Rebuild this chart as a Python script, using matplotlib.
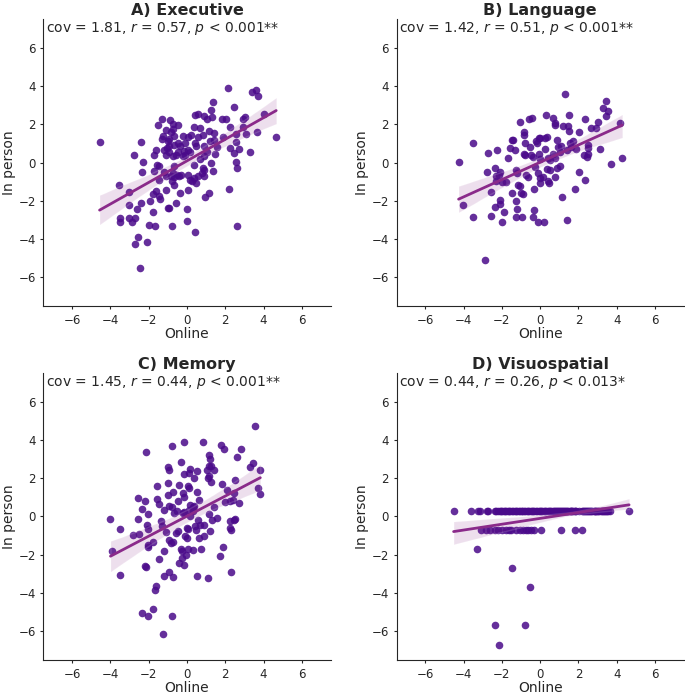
import numpy as np
import matplotlib
matplotlib.use('Agg')
import matplotlib.pyplot as plt
import seaborn as sns

# (online, in person) pairs
executive = [(-4.57, 1.06), (2.12, 3.91), (3.39, 3.70), (3.60, 3.79), (3.70, 3.46), (1.36, 3.18),
             (2.47, 2.90), (4.00, 2.54), (4.66, 1.32), (3.65, 1.60), (3.08, 1.51), (3.27, 0.56),
             (2.90, 2.30), (3.03, 2.37), (2.90, 1.86), (2.56, 1.50), (2.73, 0.70), (2.54, 1.06),
             (2.26, 0.77), (2.45, 0.52), (2.56, 0.05), (2.59, -0.31), (2.19, -1.36), (2.59, -3.32),
             (1.83, 2.30), (2.03, 2.28), (2.26, 1.88), (1.88, 1.36), (1.57, 0.82), (1.46, 0.43),
             (1.25, 0.00), (1.34, -0.42), (1.25, 2.73), (0.43, 2.49), (0.56, 2.54), (0.90, 2.45),
             (1.03, 2.28), (1.29, 2.38), (0.70, 1.81), (0.35, 1.86), (1.17, 1.65), (1.39, 1.55),
             (0.82, 1.43), (0.56, 1.34), (0.21, 1.43), (0.43, 1.03), (0.47, 0.85), (1.22, 1.11),
             (1.39, 1.20), (0.90, 0.85), (1.04, 0.54), (0.87, 0.33), (0.66, 0.19), (0.38, -0.14),
             (0.85, -0.28), (0.90, -0.37), (0.77, -0.54), (0.56, -0.68), (0.38, -0.80), (0.87, -0.71),
             (0.47, -1.06), (0.05, -0.66), (0.17, -0.89), (0.24, -0.97), (0.05, -1.46), (1.17, -1.58),
             (0.96, -1.81), (-0.02, -2.42), (-0.02, -3.06), (0.43, -3.63), (-0.23, 1.37), (-0.10, 1.03),
             (0.03, 1.34), (-0.35, 0.85), (-0.14, 0.59), (0.03, 0.68), (-0.45, 0.57), (-0.23, 0.33),
             (-0.09, 0.37), (0.16, 0.54), (-0.49, 1.03), (-0.66, 0.90), (-0.66, 1.37), (-0.45, 1.97),
             (-0.73, 2.03), (-0.87, 2.21), (-0.73, 1.76), (-0.83, 1.58), (-1.30, 2.30), (-1.53, 1.98),
             (-1.23, 1.41), (-1.32, 1.23), (-1.01, 1.11), (-1.06, 0.77), (-1.18, 0.64), (-0.96, 0.85),
             (-0.92, 0.54), (-1.10, 0.37), (-1.62, 0.68), (-1.70, 0.42), (-0.75, 0.33), (-0.57, 0.42),
             (-0.70, -0.16), (-0.75, -0.54), (-0.54, -0.63), (-0.43, -0.71), (-0.31, -0.66), (-0.70, -0.77),
             (-0.83, -0.71), (-0.78, -0.97), (-0.66, -1.15), (-0.37, -1.58), (-0.59, -2.14), (-1.01, -2.37),
             (-0.92, -2.37), (-1.08, -1.44), (-1.18, -0.50), (-1.10, -0.71), (-1.57, -0.12), (-1.44, -0.19),
             (-1.70, -0.45), (-1.44, -0.89), (-1.62, -1.50), (-1.44, -1.76), (-1.39, -1.90), (-1.77, -1.62),
             (-1.93, -2.03), (-1.77, -2.59), (-1.97, -3.29), (-1.65, -3.34), (-0.77, -3.32), (-2.09, -4.16),
             (-2.73, -4.24), (-2.54, -3.88), (-2.47, -5.51), (-2.40, 1.08), (-2.75, 0.38), (-2.28, 0.03),
             (-2.35, -0.50), (-2.40, -2.10), (-2.63, -2.42), (-2.71, -2.90), (-3.01, -1.55), (-3.01, -2.24),
             (-3.04, -2.90), (-2.89, -3.13), (-3.53, -1.15), (-3.50, -2.89), (-3.50, -3.13), (-0.92, 1.23),
             (-1.10, 1.72)]

language = [(-4.26, 0.03), (-4.03, -2.21), (-3.51, 1.01), (-3.51, -2.82), (-2.90, -5.08), (-2.70, 0.50),
            (-2.79, -0.47), (-2.55, -1.55), (-2.58, -2.77), (-2.37, -0.26), (-2.29, -0.68), (-2.37, -2.33),
            (-2.25, 0.63), (-2.08, -0.47), (-2.16, -0.64), (-2.01, -1.04), (-2.08, -1.97), (-2.08, -2.16),
            (-1.99, -3.13), (-1.87, -2.56), (-1.76, -1.04), (-1.68, 0.26), (-1.59, 0.75), (-1.47, 1.18),
            (-1.43, 1.16), (-1.45, -1.60), (-1.33, 0.63), (-1.27, -0.38), (-1.20, -0.56), (-1.24, -2.03),
            (-1.20, -2.43), (-1.27, -2.85), (-1.15, -1.17), (-1.06, -1.25), (-1.03, 2.14), (-0.98, -1.60),
            (-0.89, -1.64), (-0.92, -2.85), (-0.86, 1.57), (-0.84, 1.44), (-0.80, 1.01), (-0.77, 0.40),
            (-0.86, 0.45), (-0.72, -0.64), (-0.63, -0.77), (-0.59, 2.26), (-0.42, 2.31), (-0.54, 0.83),
            (-0.45, 0.40), (-0.37, 0.28), (-0.33, -1.39), (-0.31, -2.50), (-0.37, -2.82), (-0.28, -0.21),
            (-0.19, 1.10), (-0.16, 1.01), (-0.10, -3.13), (-0.05, 1.27), (-0.02, 1.30), (-0.07, 0.43),
            (0.02, 0.21), (-0.10, -0.56), (0.02, -0.82), (0.16, -0.73), (-0.02, -1.08), (0.21, -3.13),
            (0.24, 1.27), (0.38, 1.36), (0.28, 0.70), (0.33, 2.49), (0.42, 0.23), (0.51, 0.14),
            (0.37, -0.35), (0.54, -0.38), (0.42, -0.96), (0.47, -1.08), (0.65, 2.31), (0.77, 2.09),
            (0.77, 1.97), (0.68, 0.45), (0.77, 0.23), (0.80, -0.73), (0.86, -0.30), (0.86, 1.18),
            (0.94, 0.83), (1.03, 0.57), (1.08, 0.87), (1.03, -0.16), (1.12, -1.81), (1.20, 1.91),
            (1.29, 3.57), (1.38, 0.66), (1.41, -2.99), (1.47, 1.91), (1.52, 1.67), (1.50, 2.49),
            (1.55, 1.01), (1.64, 0.83), (1.73, 1.15), (1.87, 0.70), (1.81, -1.39), (2.03, 1.58),
            (2.03, -0.50), (2.34, 2.26), (2.29, 0.40), (2.43, 0.31), (2.51, 0.45), (2.37, -0.91),
            (2.48, 0.92), (2.51, 0.75), (2.64, 1.79), (2.92, 1.83), (3.04, 2.12), (3.12, 0.73),
            (3.30, 2.87), (3.42, 3.23), (3.44, 2.43), (3.56, 2.71), (3.73, -0.07), (4.17, 2.09),
            (4.29, 0.23), (-2.29, -0.99)]

memory = [(-4.00, -0.12), (-3.91, -1.79), (-3.48, -0.64), (-3.50, -3.06), (-2.80, -0.99), (-2.54, 0.96),
          (-2.54, -0.12), (-2.49, -0.89), (-2.37, 0.38), (-2.19, 0.83), (-2.14, 3.39), (-2.09, -0.43),
          (-2.05, -0.66), (-2.05, 0.12), (-2.37, -5.04), (-2.19, -2.61), (-2.14, -2.66), (-2.05, -1.48),
          (-2.05, -1.60), (-2.02, -5.22), (-1.79, -1.34), (-1.79, -4.85), (-1.67, -3.86), (-1.62, -3.65),
          (-1.57, 1.57), (-1.57, 0.92), (-1.44, 0.64), (-1.48, -2.21), (-1.36, -0.26), (-1.30, -0.52),
          (-1.22, -1.83), (-1.22, -3.13), (-1.25, -6.14), (-1.18, 0.35), (-1.10, -0.83), (-1.01, 2.57),
          (-0.96, 2.43), (-1.01, 1.74), (-1.01, 1.10), (-0.92, 0.57), (-0.80, 0.52), (-0.92, -1.22),
          (-0.83, -1.39), (-0.75, -1.31), (-0.92, -2.92), (-0.75, -3.15), (-0.78, 3.69), (-0.78, -5.22),
          (-0.71, 1.27), (-0.66, 0.17), (-0.52, 0.31), (-0.57, -0.87), (-0.49, -0.78), (-0.49, 0.82),
          (-0.43, 1.65), (-0.40, -2.43), (-0.26, -2.19), (-0.17, -2.52), (-0.31, 2.83), (-0.31, -1.70),
          (-0.28, -1.83), (-0.23, 1.22), (-0.17, 1.04), (-0.23, 0.17), (-0.14, 0.23), (-0.17, 2.21),
          (-0.14, 3.91), (-0.10, -1.01), (-0.02, -1.10), (-0.05, -2.00), (0.03, -1.70), (0.00, -0.61),
          (0.07, -0.66), (0.03, 1.60), (0.12, 1.48), (0.09, 2.26), (0.17, 2.47), (0.38, 2.03),
          (0.17, 0.61), (0.30, 0.47), (0.38, 0.56), (0.12, 0.35), (0.30, 0.26), (0.17, 0.00),
          (0.30, -1.74), (0.42, -0.49), (0.47, -0.73), (0.52, 2.35), (0.52, 1.27), (0.59, -0.17),
          (0.70, -0.43), (0.63, 0.87), (0.52, -3.13), (0.64, -1.10), (0.73, -1.69), (0.85, 3.91),
          (0.90, -0.43), (0.87, -1.04), (1.03, 2.43), (1.08, 2.03), (1.08, -3.24), (1.13, 3.22),
          (1.20, 3.01), (1.17, 2.63), (1.25, 2.66), (1.17, 2.11), (1.25, 1.79), (1.17, 0.12),
          (1.22, -0.75), (1.29, -0.17), (1.39, 2.43), (1.43, 0.52), (1.55, -0.09), (1.74, -2.05),
          (1.77, 3.72), (1.81, 1.69), (1.86, -1.57), (1.91, 3.55), (2.00, 0.78), (2.07, 1.39),
          (2.26, -0.61), (2.30, -0.73), (2.26, 0.82), (2.38, 0.87), (2.30, -2.90), (2.47, 1.22),
          (2.52, 1.91), (2.47, -0.17), (2.52, -0.12), (2.59, 3.13), (2.73, 0.68), (2.82, 3.51),
          (3.30, 2.57), (3.43, 2.82), (3.55, 4.73), (3.69, 1.51), (3.81, 2.43), (3.83, 1.17),
          (2.24, -0.26)]

# visuospatial scores sit on a few discrete levels (many overlapping points)
visuo_upper_x = [-4.52, -3.62, -3.24, -3.14, -2.77, -2.72, -2.35, -2.29, -2.20, -2.12, -2.06, -1.97,
                 -1.91, -1.83, -1.78, -1.69, -1.63, -1.55, -1.47, -1.42, -1.33, -1.27, -1.21, -1.11,
                 -1.06, -0.97, -0.93, -0.84, -0.77, -0.71, -0.62, -0.58, -0.49, -0.44, -0.35, -0.31,
                 -0.21, -0.16, -0.07, -0.03, 0.06, 0.11, 0.19, 0.26, 0.32, 0.41, 0.45, 0.54,
                 0.59, 0.69, 0.74, 0.83, 0.87, 0.96, 1.01, 1.11, 1.16, 1.25, 1.30, 1.39,
                 1.45, 1.54, 1.59, 1.69, 1.74, 1.84, 1.90, 2.21, 2.26, 2.36, 2.41, 2.51,
                 2.57, 2.67, 2.72, 2.82, 2.89, 2.99, 3.06, 3.16, 3.23, 3.34, 3.41, 3.51,
                 3.57, 3.64, 4.65, 1.05, 1.35, 1.62, 2.02, 2.31, 2.62, 2.86, 3.02, 3.28,
                 3.46, 0.78, 1.20, 1.80, 2.46, 2.94]
visuo_upper_y = 0.31
visuo_lower_x = [-3.07, -2.85, -2.64, -2.38, -2.20, -1.98, -1.76, -1.60, -1.50, -1.27, -1.06, -0.89,
                 -0.75, -0.63, -0.45, -0.33, 0.07, 1.11, 1.81, 2.21]
visuo_lower_y = -0.70
visuo_outliers = [(-3.29, -1.70), (-1.46, -2.70), (-0.51, -3.69), (-2.37, -5.69), (-0.80, -5.69),
                  (-2.14, -6.70)]

titles = ['A) Executive', 'B) Language', 'C) Memory', 'D) Visuospatial']
stats = [('1.81', '0.57', '0.001**'), ('1.42', '0.51', '0.001**'),
         ('1.45', '0.44', '0.001**'), ('0.44', '0.26', '0.013*')]

visuospatial = ([(x, visuo_upper_y) for x in visuo_upper_x]
                + [(x, visuo_lower_y) for x in visuo_lower_x] + visuo_outliers)
panels = [executive, language, memory, visuospatial]

sns.set_style('ticks')
plt.rcParams['font.family'] = ['DejaVu Sans']

fig, axes = plt.subplots(2, 2, figsize=(6.85, 6.94), dpi=100)
fig.subplots_adjust(left=0.0635, right=0.998, top=0.9726, bottom=0.049, wspace=0.23, hspace=0.233)

for ax, data, title, (cov, r, p) in zip(axes.flat, panels, titles, stats):
    xy = np.array(data)
    sns.regplot(x=xy[:, 0], y=xy[:, 1], ax=ax, color='#8a2a8a', seed=0,
                scatter_kws={'color': '#4a0a8a', 'alpha': 0.85, 's': 30, 'linewidths': 0},
                line_kws={'linewidth': 2})
    ax.set_xlim(-7.5, 7.5)
    ax.set_ylim(-7.5, 7.5)
    ax.set_xticks([-6, -4, -2, 0, 2, 4, 6])
    ax.set_yticks([-6, -4, -2, 0, 2, 4, 6])
    ax.tick_params(labelsize=8.5, length=2.5, width=0.8, pad=3)
    ax.set_xlabel('Online', fontsize=10, labelpad=0)
    ax.set_ylabel('In person', fontsize=10, labelpad=2)
    ax.set_title(title, fontsize=11.5, fontweight='bold', pad=3)
    ax.text(0.01, 0.995, f'cov = {cov}, $r$ = {r}, $p$ < {p}', transform=ax.transAxes,
            ha='left', va='top', fontsize=10)
    sns.despine(ax=ax)

fig.savefig('out.png', dpi=100)
